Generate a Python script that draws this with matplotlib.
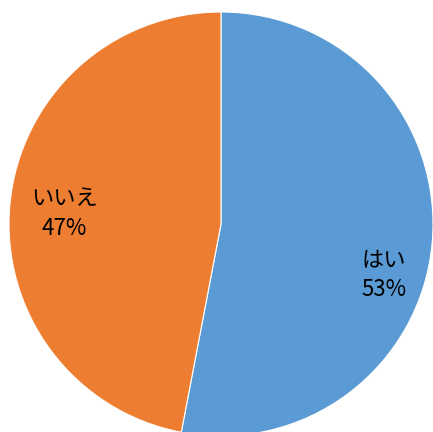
import matplotlib
matplotlib.use('Agg')
from matplotlib import pyplot as plt

plt.rcParams['font.family'] = ['Noto Sans CJK JP', 'DejaVu Sans']

labels = ['はい', 'いいえ']
values = [53, 47]
colors = ['#5B9BD5', '#ED7D31']
text_pos = [(0.77, -0.24), (-0.74, 0.05)]

fig = plt.figure(figsize=(4.33, 4.32), dpi=100)
ax = fig.add_axes([9/433, -4/432, 424/433, 424/432])
wedges, texts = ax.pie(values, colors=colors, startangle=90, counterclock=False,
                       wedgeprops=dict(edgecolor='white', linewidth=0.8))
for (x, y), lab, v in zip(text_pos, labels, values):
    ax.text(x, y, lab + '\n' + str(v) + '%', ha='center', va='center',
            fontsize=16, linespacing=1.35)
ax.set_xlim(-1, 1)
ax.set_ylim(-1, 1)
ax.set_aspect('equal')
ax.axis('off')
fig.savefig('out.png', dpi=100)
